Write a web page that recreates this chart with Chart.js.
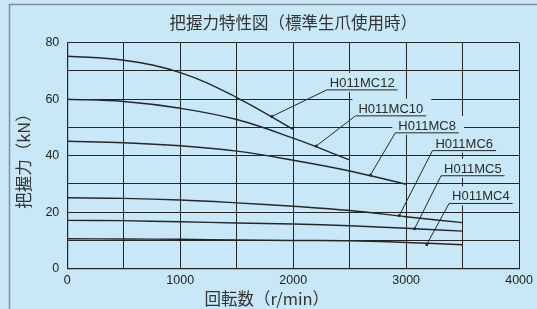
<!DOCTYPE html>
<html>
<head>
<meta charset="utf-8">
<script src="https://cdn.jsdelivr.net/npm/chart.js@4.4.1/dist/chart.umd.min.js"></script>
<style>
    html, body { margin: 0; padding: 0; background: #c8e8f8; }
    #grafico { display: block; }
</style>
</head>
<body>
<canvas id="grafico" width="537" height="309"></canvas>
<script>
// rotações (r/min) em que as curvas foram lidas
const rotacoes = [0, 500, 1000, 1500, 2000, 2500, 3000, 3500];

// força de fixação (kN) por modelo, null = fora da faixa
const mc12 = [75.2, 73.8, 69.4, 60.6, 49.3, null, null, null];
const mc10 = [60.0, 59.2, 56.8, 52.8, 46.2, 38.5, null, null];
const mc8 = [45.1, 44.6, 43.5, 41.6, 38.4, 34.6, 29.9, null];
const mc6 = [25.1, 24.9, 24.3, 23.3, 22.1, 20.6, 18.4, 16.3];
const mc5 = [17.1, 17.0, 16.6, 16.2, 15.8, 15.2, 14.3, 13.3];
const mc4 = [10.6, 10.5, 10.4, 10.2, 10.0, 9.9, 9.3, 8.5];

const modelos = ["H011MC12", "H011MC10", "H011MC8", "H011MC6", "H011MC5", "H011MC4"];
const series = [mc12, mc10, mc8, mc6, mc5, mc4];

const ticksX = [0, 1000, 2000, 3000, 4000];
const ticksY = [0, 20, 40, 60, 80];

const titulo = "把握力特性図（標準生爪使用時）";
const tituloX = "回転数（r/min）";
const tituloY = "把握力（kN）";

// rótulos: início do sublinhado e ponto indicado na curva (em r/min, kN)
const rotulos = [
    { texto: "H011MC12", em: [2298, 63.3], ponta: [1811, 53.9] },
    { texto: "H011MC10", em: [2551, 54.1], ponta: [2204, 43.4] },
    { texto: "H011MC8", em: [2904, 48.1], ponta: [2684, 33.2] },
    { texto: "H011MC6", em: [3233, 41.8], ponta: [2939, 18.8] },
    { texto: "H011MC5", em: [3309, 32.9], ponta: [3074, 14.1] },
    { texto: "H011MC4", em: [3380, 23.1], ponta: [3183, 8.6] },
];

const FUNDO = "#c8e8f8";
const LINHA = "#262626";
const FONTE_CJK = '"Noto Sans CJK JP", "Noto Sans", sans-serif';
const FONTE_NUM = '"Liberation Sans", Arial, sans-serif';

const montarPontos = (valores) => {
    let pontos = [];
    valores.forEach((v, i) => {
        if (v !== null) {
            pontos.push({ x: rotacoes[i], y: v });
        }
    });
    return pontos;
};

const fundoPlugin = {
    id: "fundo",
    beforeDraw: (chart) => {
        const ctx = chart.ctx;
        ctx.save();
        ctx.fillStyle = FUNDO;
        ctx.fillRect(0, 0, chart.width, chart.height);
        ctx.strokeStyle = "#8c8c8c";
        ctx.lineWidth = 1.5;
        ctx.beginPath();
        ctx.moveTo(9.5, chart.height);
        ctx.lineTo(9.5, 4.5);
        ctx.lineTo(chart.width, 4.5);
        ctx.stroke();
        ctx.restore();
    },
};

const medirRotulo = (ctx, r, sx, sy) => {
    const x = sx.getPixelForValue(r.em[0]);
    const y = sy.getPixelForValue(r.em[1]);
    const largura = ctx.measureText(r.texto).width;
    return { x, y, largura };
};

const rotulosPlugin = {
    id: "rotulos",
    beforeDatasetsDraw: (chart) => {
        const ctx = chart.ctx;
        const sx = chart.scales.x;
        const sy = chart.scales.y;
        ctx.save();
        ctx.font = "13px " + FONTE_NUM;
        ctx.fillStyle = FUNDO;
        rotulos.forEach((r) => {
            const m = medirRotulo(ctx, r, sx, sy);
            ctx.fillRect(m.x - 3, m.y - 17, m.largura + 14, 19);
        });
        ctx.restore();
    },
    afterDatasetsDraw: (chart) => {
        const ctx = chart.ctx;
        const sx = chart.scales.x;
        const sy = chart.scales.y;
        ctx.save();
        ctx.font = "13px " + FONTE_NUM;
        ctx.strokeStyle = LINHA;
        ctx.lineWidth = 1;
        ctx.textBaseline = "alphabetic";
        rotulos.forEach((r) => {
            const m = medirRotulo(ctx, r, sx, sy);
            const px = sx.getPixelForValue(r.ponta[0]);
            const py = sy.getPixelForValue(r.ponta[1]);
            ctx.fillStyle = "#2a2a2a";
            ctx.fillText(r.texto, m.x + 3, m.y - 3);
            ctx.beginPath();
            ctx.moveTo(m.x + m.largura + 6, m.y);
            ctx.lineTo(m.x, m.y);
            ctx.lineTo(px, py);
            ctx.stroke();
            ctx.beginPath();
            ctx.arc(px, py, 1.5, 0, Math.PI * 2);
            ctx.fillStyle = LINHA;
            ctx.fill();
        });
        ctx.restore();
    },
};

const titulosEixosPlugin = {
    id: "titulosEixos",
    afterDraw: (chart) => {
        const ctx = chart.ctx;
        ctx.save();
        ctx.font = "16.5px " + FONTE_CJK;
        ctx.fillStyle = "#333";
        ctx.textAlign = "center";
        ctx.textBaseline = "middle";
        ctx.fillText(tituloX, 266.7, 298.5);
        ctx.translate(24, 157);
        ctx.rotate(-Math.PI / 2);
        ctx.fillText(tituloY, 0, 0);
        ctx.restore();
    },
};

const ctx = document.getElementById("grafico").getContext("2d");

new Chart(ctx, {
    type: "line",
    data: {
        datasets: series.map((valores, i) => {
            return {
                label: modelos[i],
                data: montarPontos(valores),
                borderColor: LINHA,
                borderWidth: 1.4,
                pointRadius: 0,
                fill: false,
                tension: 0.4,
            };
        }),
    },
    options: {
        responsive: false,
        devicePixelRatio: 1,
        animation: false,
        layout: {
            padding: { left: 0, right: 16, top: 0, bottom: 0 },
        },
        plugins: {
            legend: { display: false },
            tooltip: { enabled: false },
            title: {
                display: true,
                text: titulo,
                fullSize: false,
                color: "#333",
                font: { family: FONTE_CJK, size: 16.5, weight: "normal", lineHeight: 1.2 },
                padding: { top: 13, bottom: 9.9 },
            },
        },
        scales: {
            x: {
                type: "linear",
                min: 0,
                max: 4000,
                afterFit: (scale) => {
                    scale.height = 40.3;
                },
                ticks: {
                    stepSize: 500,
                    autoSkip: false,
                    maxRotation: 0,
                    padding: 4,
                    color: "#222",
                    font: { family: FONTE_NUM, size: 12.5 },
                    callback: (v) => (ticksX.includes(v) ? v : ""),
                },
                grid: { color: LINHA, lineWidth: 1, drawTicks: false },
                border: { color: LINHA, width: 1.2 },
            },
            y: {
                min: 0,
                max: 80,
                afterFit: (scale) => {
                    scale.width = 67.3;
                },
                ticks: {
                    stepSize: 10,
                    autoSkip: false,
                    padding: 8,
                    color: "#222",
                    font: { family: FONTE_NUM, size: 12.5 },
                    callback: (v) => (ticksY.includes(v) ? v : ""),
                },
                grid: { color: LINHA, lineWidth: 1, drawTicks: false },
                border: { color: LINHA, width: 1.2 },
            },
        },
    },
    plugins: [fundoPlugin, rotulosPlugin, titulosEixosPlugin],
});
</script>
</body>
</html>
